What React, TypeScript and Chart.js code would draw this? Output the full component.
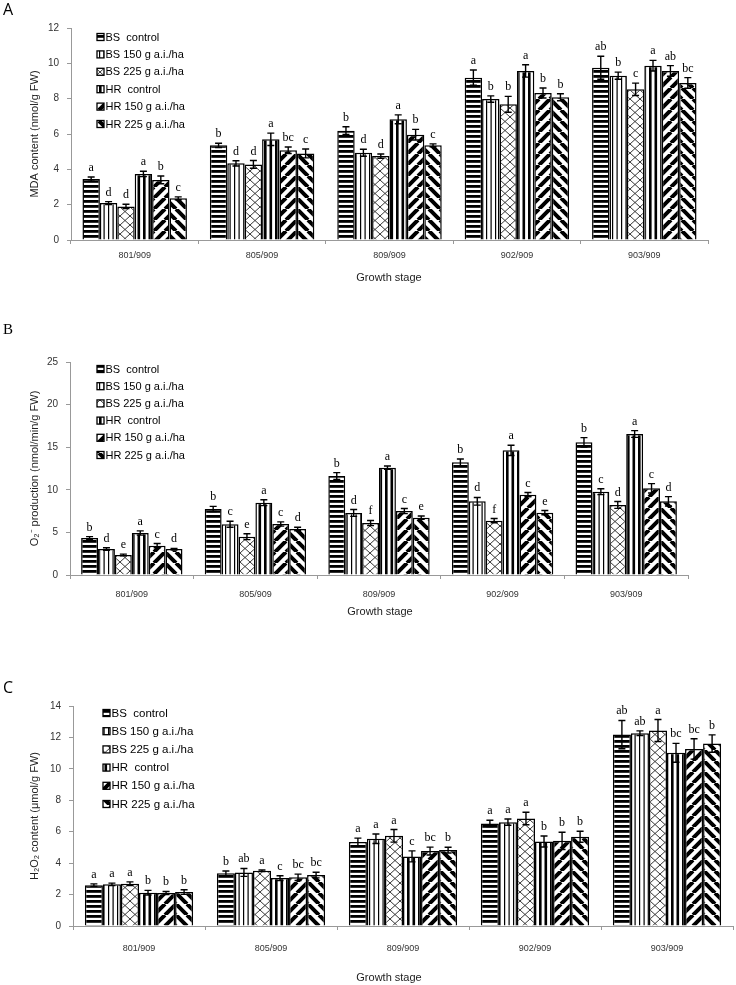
import React, { useEffect, useRef } from 'react';
import { Chart, registerables } from 'chart.js';

Chart.register(...registerables);

const categories = ['801/909', '805/909', '809/909', '902/909', '903/909'];
const seriesLabels = ['BS  control', 'BS 150 g a.i./ha', 'BS 225 g a.i./ha', 'HR  control', 'HR 150 g a.i./ha', 'HR 225 g a.i./ha'];
const xTitleText = 'Growth stage';

// Panel A: MDA content (rows = series, columns = growth stages)
const mdaMeans = [
  [3.45, 5.36, 6.19, 9.19, 9.75],
  [2.09, 4.34, 4.94, 7.98, 9.3],
  [1.9, 4.28, 4.75, 7.68, 8.53],
  [3.74, 5.7, 6.83, 9.57, 9.87],
  [3.4, 5.08, 5.96, 8.32, 9.57],
  [2.36, 4.9, 5.36, 8.08, 8.89],
];
const mdaErrors = [
  [0.12, 0.12, 0.22, 0.43, 0.65],
  [0.08, 0.15, 0.2, 0.18, 0.2],
  [0.12, 0.22, 0.12, 0.45, 0.35],
  [0.15, 0.35, 0.25, 0.35, 0.3],
  [0.22, 0.18, 0.3, 0.28, 0.3],
  [0.08, 0.25, 0.08, 0.2, 0.3],
];
const mdaLetters = [
  ['a', 'b', 'b', 'a', 'ab'],
  ['d', 'd', 'd', 'b', 'b'],
  ['d', 'd', 'd', 'b', 'c'],
  ['a', 'a', 'a', 'a', 'a'],
  ['b', 'bc', 'b', 'b', 'ab'],
  ['c', 'c', 'c', 'b', 'bc'],
];

// Panel B: O2- production
const o2Means = [
  [4.35, 7.75, 11.62, 13.22, 15.57],
  [3.05, 5.95, 7.28, 8.65, 9.78],
  [2.35, 4.5, 6.1, 6.38, 8.22],
  [4.93, 8.49, 12.6, 14.63, 16.55],
  [3.44, 5.99, 7.5, 9.43, 10.17],
  [3.05, 5.4, 6.73, 7.32, 8.65],
];
const o2Errors = [
  [0.15, 0.3, 0.4, 0.4, 0.55],
  [0.15, 0.35, 0.4, 0.45, 0.35],
  [0.1, 0.35, 0.3, 0.25, 0.4],
  [0.25, 0.35, 0.2, 0.6, 0.4],
  [0.25, 0.25, 0.3, 0.25, 0.55],
  [0.08, 0.2, 0.2, 0.25, 0.55],
];
const o2Letters = [
  ['b', 'b', 'b', 'b', 'b'],
  ['d', 'c', 'd', 'd', 'c'],
  ['e', 'e', 'f', 'f', 'd'],
  ['a', 'a', 'a', 'a', 'a'],
  ['c', 'c', 'c', 'c', 'c'],
  ['d', 'd', 'e', 'e', 'd'],
];

// Panel C: H2O2 content
const h2o2Means = [
  [2.6, 3.35, 5.34, 6.53, 12.18],
  [2.65, 3.41, 5.55, 6.61, 12.27],
  [2.69, 3.52, 5.74, 6.84, 12.44],
  [2.12, 3.05, 4.43, 5.38, 11.02],
  [2.1, 3.1, 4.77, 5.42, 11.27],
  [2.16, 3.24, 4.83, 5.68, 11.61],
];
const h2o2Errors = [
  [0.08, 0.15, 0.25, 0.2, 0.9],
  [0.08, 0.25, 0.3, 0.2, 0.15],
  [0.12, 0.05, 0.4, 0.4, 0.7],
  [0.15, 0.15, 0.35, 0.35, 0.6],
  [0.1, 0.2, 0.25, 0.55, 0.65],
  [0.15, 0.18, 0.18, 0.35, 0.55],
];
const h2o2Letters = [
  ['a', 'b', 'a', 'a', 'ab'],
  ['a', 'ab', 'a', 'a', 'ab'],
  ['a', 'a', 'a', 'a', 'a'],
  ['b', 'c', 'c', 'b', 'bc'],
  ['b', 'bc', 'bc', 'b', 'bc'],
  ['b', 'bc', 'b', 'b', 'b'],
];

const SANS = '"Liberation Sans", Arial, sans-serif';
const SERIF = '"Liberation Serif", "Times New Roman", serif';

function makePattern(kind: number): CanvasPattern {
  const c = document.createElement('canvas');
  const sizes: Record<number, [number, number]> = { 0: [4, 10], 1: [9, 4], 2: [10, 9], 3: [11, 4], 4: [11, 11], 5: [11, 11] };
  const [w, h] = sizes[kind];
  c.width = w;
  c.height = h;
  const g = c.getContext('2d')!;
  g.fillStyle = '#fff';
  g.fillRect(0, 0, w, h);
  g.fillStyle = '#000';
  g.strokeStyle = '#000';
  if (kind === 0) {
    g.fillRect(0, 0, w, 2.8);
    g.fillRect(0, 5, w, 2.8);
  } else if (kind === 1) {
    g.fillRect(0, 0, 1.2, h);
    g.fillRect(4.5, 0, 1.2, h);
  } else if (kind === 2) {
    g.strokeStyle = '#222';
    g.lineWidth = 0.9;
    g.beginPath();
    g.moveTo(0, 0); g.lineTo(w, h);
    g.moveTo(w, 0); g.lineTo(0, h);
    g.stroke();
  } else if (kind === 3) {
    g.fillRect(0, 0, 2.6, h);
    g.fillRect(5.5, 0, 2.6, h);
  } else if (kind === 4) {
    g.lineWidth = 4;
    g.beginPath();
    for (let k = -1; k <= 1; k++) { g.moveTo(k * w, h); g.lineTo(k * w + w, 0); }
    g.stroke();
  } else {
    g.lineWidth = 4;
    g.beginPath();
    for (let k = -1; k <= 1; k++) { g.moveTo(k * w, 0); g.lineTo(k * w + w, h); }
    g.stroke();
  }
  return g.createPattern(c, 'repeat')!;
}

type Geom = {
  top: number; height: number; yWidth: number; padTop: number; padRight: number; xHeight: number;
  xTickPad: number; xTitleX: number; xTitleY: number; legendX: number; legendY: number; legendDy: number; legendFont: number;
};

type PanelProps = {
  means: number[][]; errors: number[][]; letters: string[][];
  yMax: number; yStep: number; yTitle: string; geom: Geom;
};

function BarPanel({ means, errors, letters, yMax, yStep, yTitle, geom }: PanelProps) {
  const ref = useRef<HTMLCanvasElement>(null);
  useEffect(() => {
    const canvas = ref.current!;
    const patterns = seriesLabels.map((_, i) => makePattern(i));
    const decor = {
      id: 'panelDecor',
      afterDatasetsDraw(chart: any) {
        const ctx = chart.ctx as CanvasRenderingContext2D;
        const yScale = chart.scales.y;
        ctx.save();
        chart.data.datasets.forEach((ds: any, di: number) => {
          const meta = chart.getDatasetMeta(di);
          meta.data.forEach((bar: any, ci: number) => {
            const m = means[di][ci];
            const e = errors[di][ci];
            const yT = yScale.getPixelForValue(m + e);
            const yB = yScale.getPixelForValue(m - e);
            ctx.strokeStyle = '#000';
            ctx.lineWidth = 1.4;
            ctx.beginPath();
            ctx.moveTo(bar.x, yT); ctx.lineTo(bar.x, yB);
            ctx.moveTo(bar.x - 3.5, yT); ctx.lineTo(bar.x + 3.5, yT);
            ctx.moveTo(bar.x - 3.5, yB); ctx.lineTo(bar.x + 3.5, yB);
            ctx.stroke();
            ctx.fillStyle = '#000';
            ctx.font = `12px ${SERIF}`;
            ctx.textAlign = 'center';
            ctx.textBaseline = 'alphabetic';
            ctx.fillText(letters[di][ci], bar.x, yT - 6);
          });
        });
        // legend
        ctx.font = `${geom.legendFont}px ${SANS}`;
        ctx.textAlign = 'left';
        ctx.textBaseline = 'middle';
        chart.data.datasets.forEach((ds: any, di: number) => {
          const cy = geom.legendY + di * geom.legendDy;
          ctx.fillStyle = ds.backgroundColor;
          ctx.fillRect(geom.legendX, cy - 3.5, 7, 7);
          ctx.strokeStyle = '#000';
          ctx.lineWidth = 1.3;
          ctx.strokeRect(geom.legendX, cy - 3.5, 7, 7);
          ctx.fillStyle = '#000';
          ctx.fillText(ds.label, geom.legendX + 8.5, cy + 0.5);
        });
        // x axis title
        ctx.font = `11px ${SANS}`;
        ctx.textAlign = 'center';
        ctx.fillStyle = '#222';
        ctx.fillText(xTitleText, geom.xTitleX, geom.xTitleY);
        ctx.restore();
      },
    };
    const chart = new Chart(canvas, {
      type: 'bar',
      data: {
        labels: categories,
        datasets: seriesLabels.map((label, i) => ({
          label,
          data: means[i],
          backgroundColor: patterns[i] as any,
          borderColor: '#000',
          borderWidth: 1.5,
          categoryPercentage: 0.82,
          barPercentage: 1,
        })),
      },
      options: {
        responsive: false,
        animation: false,
        layout: { padding: { left: 0, right: geom.padRight, top: geom.padTop, bottom: 0 } },
        plugins: { legend: { display: false }, tooltip: { enabled: false } },
        scales: {
          x: {
            grid: { drawOnChartArea: false, drawTicks: true, tickLength: 4, color: '#999', offset: true },
            border: { color: '#999', width: 1 },
            ticks: { padding: geom.xTickPad, font: { family: SANS, size: 9 }, color: '#333', maxRotation: 0, autoSkip: false },
            afterFit: (s: any) => { s.height = geom.xHeight; },
          },
          y: {
            min: 0,
            max: yMax,
            ticks: { stepSize: yStep, padding: 8, font: { family: SANS, size: 10 }, color: '#333' },
            grid: { drawOnChartArea: false, drawTicks: true, tickLength: 4, color: '#999' },
            border: { color: '#999', width: 1 },
            title: { display: true, text: yTitle, font: { family: SANS, size: 11 }, color: '#222', padding: { top: 28, bottom: 0 } },
            afterFit: (s: any) => { s.width = geom.yWidth; },
          },
        },
      },
      plugins: [decor],
    });
    return () => chart.destroy();
  }, []);
  return (
    <canvas
      ref={ref}
      width={736}
      height={geom.height}
      style={{ position: 'absolute', left: 0, top: geom.top, width: 736, height: geom.height, display: 'block' }}
    />
  );
}

const geomA: Geom = { top: 0, height: 300, yWidth: 71, padTop: 28, padRight: 28, xHeight: 60, xTickPad: 6, xTitleX: 389, xTitleY: 278, legendX: 97, legendY: 37, legendDy: 17.4, legendFont: 11 };
const geomB: Geom = { top: 310, height: 310, yWidth: 70, padTop: 52, padRight: 48, xHeight: 45, xTickPad: 10, xTitleX: 380, xTitleY: 302, legendX: 97, legendY: 59, legendDy: 17.2, legendFont: 11 };
const geomC: Geom = { top: 640, height: 345, yWidth: 73, padTop: 66, padRight: 3, xHeight: 59, xTickPad: 13, xTitleX: 389, xTitleY: 338, legendX: 103, legendY: 73, legendDy: 18.2, legendFont: 11.5 };

export default function App() {
  return (
    <div style={{ position: 'absolute', left: 0, top: 0, width: 736, height: 985, background: '#fff', overflow: 'hidden' }}>
      <BarPanel means={mdaMeans} errors={mdaErrors} letters={mdaLetters} yMax={12} yStep={2} yTitle="MDA content (nmol/g FW)" geom={geomA} />
      <BarPanel means={o2Means} errors={o2Errors} letters={o2Letters} yMax={25} yStep={5} yTitle="O₂⁻ production (nmol/min/g FW)" geom={geomB} />
      <BarPanel means={h2o2Means} errors={h2o2Errors} letters={h2o2Letters} yMax={14} yStep={2} yTitle="H₂O₂ content (μmol/g FW)" geom={geomC} />
      <div style={{ position: 'absolute', left: 3, top: 0, fontFamily: '"Open Sans", "Liberation Sans", sans-serif', fontSize: 16, lineHeight: '18px' }}>A</div>
      <div style={{ position: 'absolute', left: 3, top: 320, fontFamily: SERIF, fontSize: 15, lineHeight: '18px' }}>B</div>
      <div style={{ position: 'absolute', left: 3, top: 678, fontFamily: '"Open Sans", "Liberation Sans", sans-serif', fontSize: 16, lineHeight: '18px' }}>C</div>
    </div>
  );
}
